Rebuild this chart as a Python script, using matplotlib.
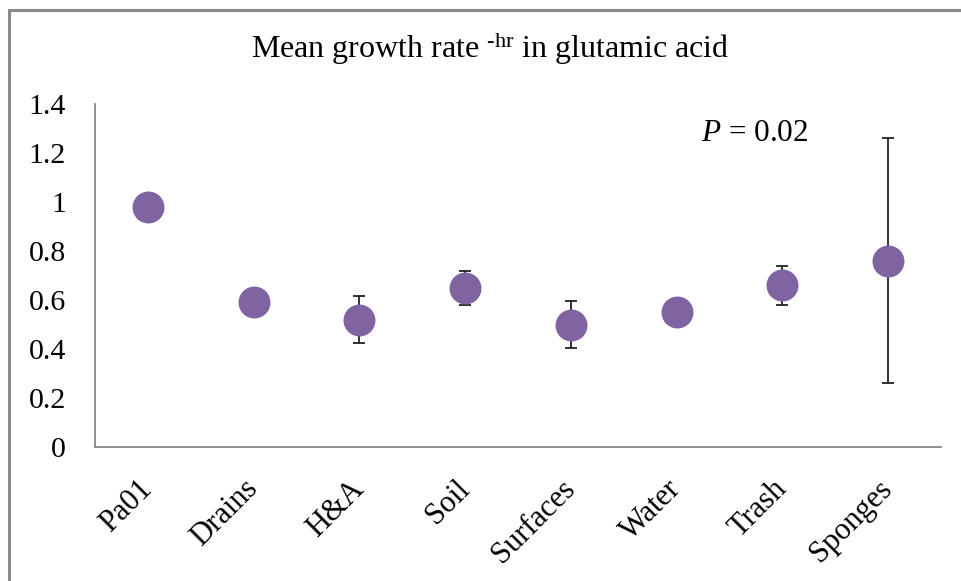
import matplotlib
matplotlib.use("Agg")
import matplotlib.pyplot as plt
from matplotlib.patches import Rectangle

plt.rcParams["font.family"] = ["Liberation Serif", "DejaVu Serif"]
plt.rcParams["mathtext.fontset"] = "custom"
plt.rcParams["mathtext.rm"] = "Liberation Serif"
plt.rcParams["mathtext.it"] = "Liberation Serif:italic"

categories = ["Pa01", "Drains", "H&A", "Soil", "Surfaces", "Water", "Trash", "Sponges"]
means = [0.98, 0.59, 0.52, 0.65, 0.50, 0.55, 0.66, 0.76]
errors = [0.0, 0.0, 0.095, 0.07, 0.094, 0.0, 0.079, 0.50]
y_ticks = [0, 0.2, 0.4, 0.6, 0.8, 1, 1.2, 1.4]
y_tick_labels = ["0", "0.2", "0.4", "0.6", "0.8", "1", "1.2", "1.4"]

W, H = 961, 581
fig = plt.figure(figsize=(W / 100, H / 100), dpi=100)
fig.patch.set_facecolor("white")

# chart frame
fig.patches.append(Rectangle((9 / W, -0.05), 1.2, (H - 10) / H + 0.05,
                             transform=fig.transFigure, fill=False,
                             edgecolor="#8a8a8a", linewidth=2.2))

ax = fig.add_axes([95 / W, (H - 447) / H, (941 - 95) / W, (447 - 104) / H])
x = list(range(len(categories)))

err_x = [xi for xi, e in zip(x, errors) if e > 0]
err_y = [m for m, e in zip(means, errors) if e > 0]
err_v = [e for e in errors if e > 0]
ax.errorbar(err_x, err_y, yerr=err_v, fmt="none", ecolor="#222222",
            elinewidth=1.3, capsize=4.3, capthick=1.3, zorder=2)
ax.plot(x, means, "o", color="#8064a2", markersize=23, markeredgewidth=0,
        zorder=3)

ax.set_xlim(-0.5, len(categories) - 0.5)
ax.set_ylim(0, 1.4)
ax.set_yticks(y_ticks)
ax.set_yticklabels(y_tick_labels, fontsize=21.5)
ax.set_xticks(x)
ax.set_xticklabels(categories, fontsize=22, rotation=45, ha="right",
                   va="center", rotation_mode="anchor")
ax.tick_params(axis="both", length=0, colors="black")
ax.tick_params(axis="y", pad=21)
ax.tick_params(axis="x", pad=27)

for side in ["top", "right"]:
    ax.spines[side].set_visible(False)
for side in ["left", "bottom"]:
    ax.spines[side].set_color("#868686")
    ax.spines[side].set_linewidth(1.3)

ax.text(0.78, 0.915, "$P$ = 0.02", transform=ax.transAxes, fontsize=22.5,
        ha="center", va="center")

fig.text(490 / W, 1 - 49 / H, r"Mean growth rate $^{\text{-hr}}$ in glutamic acid",
         fontsize=23, ha="center", va="center")

fig.savefig("out.png", dpi=100)
